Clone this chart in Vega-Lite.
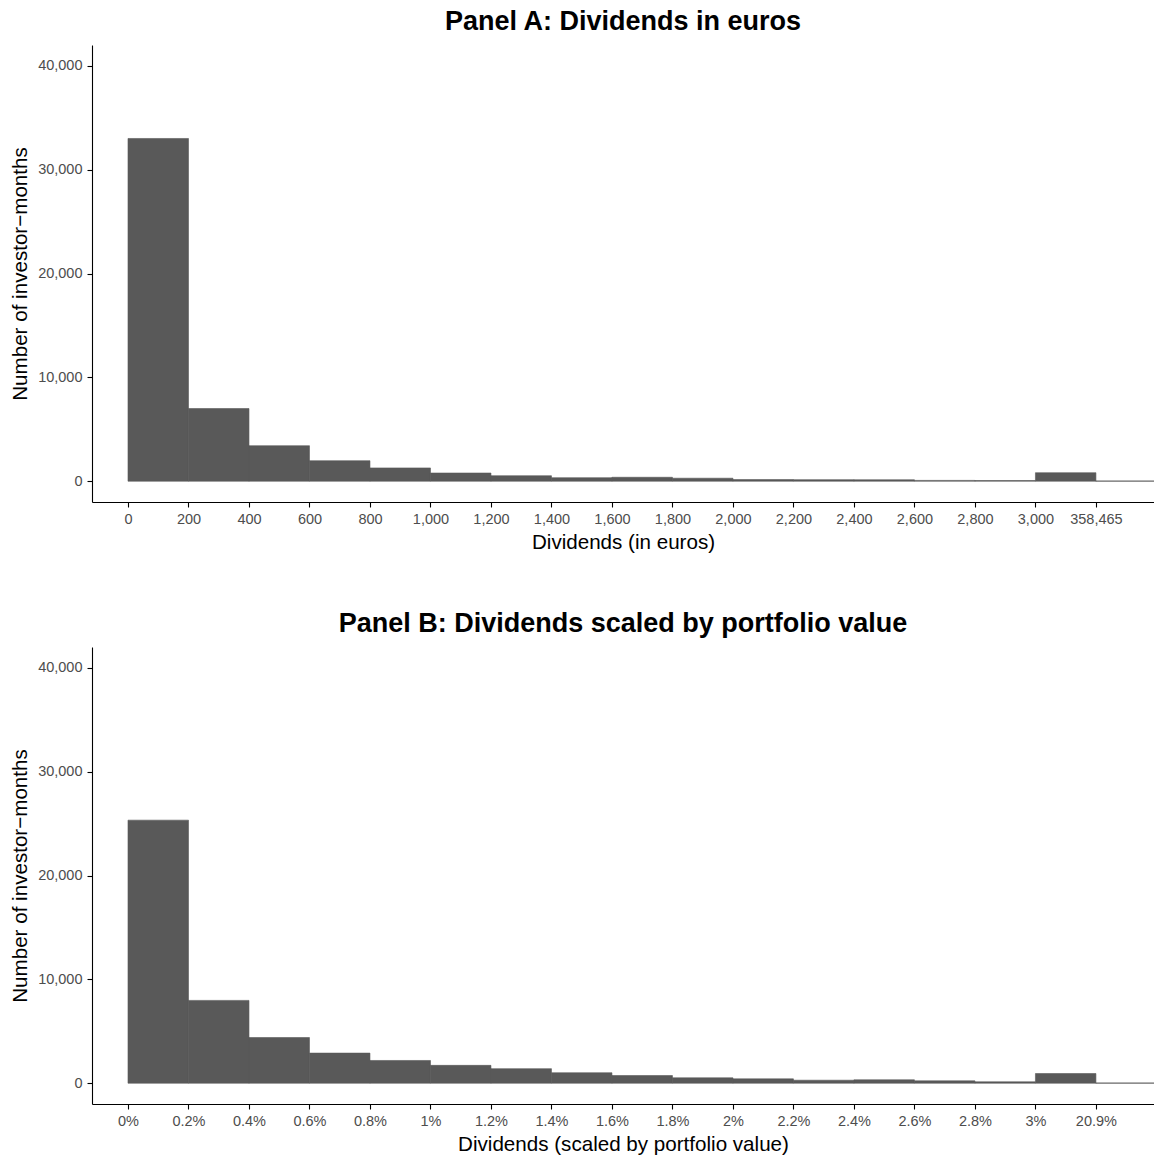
{
  "$schema": "https://vega.github.io/schema/vega-lite/v6.json",
  "background": "white",
  "padding": {"left": 10, "top": 8, "right": 0, "bottom": 4},
  "config": {
    "font": "Liberation Sans",
    "view": {"stroke": null},
    "axis": {
      "grid": false,
      "domainColor": "black",
      "domainWidth": 1.1,
      "tickColor": "black",
      "tickWidth": 1.1,
      "tickSize": 5,
      "labelColor": "#4d4d4d",
      "labelFontSize": 14.5,
      "labelFont": "Liberation Sans",
      "titleFont": "Liberation Sans",
      "titleFontSize": 20.6,
      "titleFontWeight": "normal",
      "titleColor": "black",
      "labelPadding": 5
    },
    "axisX": {"titlePadding": 7},
    "axisY": {"titlePadding": 7},
    "title": {"font": "Liberation Sans", "fontSize": 27, "fontWeight": "bold", "color": "black", "anchor": "middle", "offset": 9},
    "concat": {"spacing": 56}
  },
  "datasets": {
    "euros": [
      {"lo": 0, "hi": 200, "count": 33000},
      {"lo": 200, "hi": 400, "count": 7000},
      {"lo": 400, "hi": 600, "count": 3420},
      {"lo": 600, "hi": 800, "count": 1975},
      {"lo": 800, "hi": 1000, "count": 1280},
      {"lo": 1000, "hi": 1200, "count": 790},
      {"lo": 1200, "hi": 1400, "count": 530},
      {"lo": 1400, "hi": 1600, "count": 340},
      {"lo": 1600, "hi": 1800, "count": 380},
      {"lo": 1800, "hi": 2000, "count": 290},
      {"lo": 2000, "hi": 2200, "count": 160},
      {"lo": 2200, "hi": 2400, "count": 150},
      {"lo": 2400, "hi": 2600, "count": 140},
      {"lo": 2600, "hi": 2800, "count": 80},
      {"lo": 2800, "hi": 3000, "count": 70},
      {"lo": 3000, "hi": 3200, "count": 820},
      {"lo": 3200, "hi": 3400, "count": 30}
    ],
    "scaled": [
      {"lo": 0, "hi": 0.2, "count": 25330},
      {"lo": 0.2, "hi": 0.4, "count": 7975},
      {"lo": 0.4, "hi": 0.6, "count": 4400},
      {"lo": 0.6, "hi": 0.8, "count": 2900},
      {"lo": 0.8, "hi": 1.0, "count": 2190},
      {"lo": 1.0, "hi": 1.2, "count": 1720},
      {"lo": 1.2, "hi": 1.4, "count": 1400},
      {"lo": 1.4, "hi": 1.6, "count": 1010},
      {"lo": 1.6, "hi": 1.8, "count": 740},
      {"lo": 1.8, "hi": 2.0, "count": 520},
      {"lo": 2.0, "hi": 2.2, "count": 420},
      {"lo": 2.2, "hi": 2.4, "count": 290},
      {"lo": 2.4, "hi": 2.6, "count": 330},
      {"lo": 2.6, "hi": 2.8, "count": 230},
      {"lo": 2.8, "hi": 3.0, "count": 135},
      {"lo": 3.0, "hi": 3.2, "count": 935},
      {"lo": 3.2, "hi": 3.4, "count": 30}
    ]
  },
  "vconcat": [
    {
      "title": "Panel A: Dividends in euros",
      "width": 1062,
      "height": 457,
      "data": {"name": "euros"},
      "mark": {"type": "bar", "color": "#595959", "stroke": "#595959", "strokeWidth": 0.6, "clip": true},
      "encoding": {
        "x": {
          "field": "lo", "type": "quantitative",
          "scale": {"domain": [-119, 3392], "nice": false, "zero": false},
          "axis": {
            "title": "Dividends (in euros)",
            "values": [0, 200, 400, 600, 800, 1000, 1200, 1400, 1600, 1800, 2000, 2200, 2400, 2600, 2800, 3000, 3200],
            "labelExpr": "datum.value == 3200 ? '358,465' : format(datum.value, ',')"
          }
        },
        "x2": {"field": "hi"},
        "y": {
          "field": "count", "type": "quantitative",
          "scale": {"domain": [-2000, 42000], "nice": false},
          "axis": {"title": "Number of investor\u2212months", "values": [0, 10000, 20000, 30000, 40000], "format": ",d"}
        },
        "y2": {"datum": 0}
      }
    },
    {
      "title": "Panel B: Dividends scaled by portfolio value",
      "width": 1062,
      "height": 457,
      "data": {"name": "scaled"},
      "mark": {"type": "bar", "color": "#595959", "stroke": "#595959", "strokeWidth": 0.6, "clip": true},
      "encoding": {
        "x": {
          "field": "lo", "type": "quantitative",
          "scale": {"domain": [-0.119, 3.392], "nice": false, "zero": false},
          "axis": {
            "title": "Dividends (scaled by portfolio value)",
            "values": [0, 0.2, 0.4, 0.6, 0.8, 1.0, 1.2, 1.4, 1.6, 1.8, 2.0, 2.2, 2.4, 2.6, 2.8, 3.0, 3.2],
            "labelExpr": "datum.value > 3.1 ? '20.9%' : format(datum.value, '.1~f') + '%'"
          }
        },
        "x2": {"field": "hi"},
        "y": {
          "field": "count", "type": "quantitative",
          "scale": {"domain": [-2000, 42000], "nice": false},
          "axis": {"title": "Number of investor\u2212months", "values": [0, 10000, 20000, 30000, 40000], "format": ",d"}
        },
        "y2": {"datum": 0}
      }
    }
  ]
}
